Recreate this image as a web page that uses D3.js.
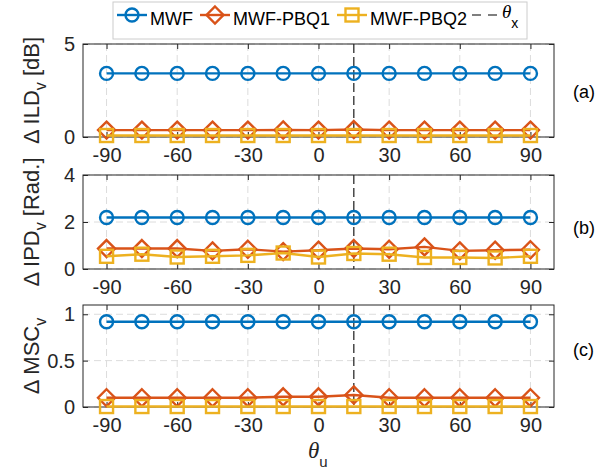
<!DOCTYPE html>
<html>
<head>
<meta charset="utf-8">
<script src="https://cdn.jsdelivr.net/npm/d3@7"></script>
<style>
  body { margin: 0; background: #fff; }
  text { font-family: "Liberation Sans", Arial, sans-serif; }
</style>
</head>
<body>
<div id="chart"></div>
<script>
// angles of the unwanted source (theta_u), and the target direction theta_x
const thetaU = [-90, -75, -60, -45, -30, -15, 0, 15, 30, 45, 60, 75, 90];
const xTicks = [-90, -60, -30, 0, 30, 60, 90];
const thetaX = 15;

const seriesNames = ['MWF', 'MWF-PBQ1', 'MWF-PBQ2'];

// (a) delta ILD [dB]
const ildMwf  = [3.42, 3.42, 3.42, 3.42, 3.42, 3.42, 3.42, 3.42, 3.42, 3.42, 3.42, 3.42, 3.42];
const ildPbq1 = [0.37, 0.37, 0.37, 0.37, 0.37, 0.38, 0.37, 0.40, 0.37, 0.37, 0.37, 0.37, 0.37];
const ildPbq2 = [0.08, 0.08, 0.08, 0.08, 0.08, 0.08, 0.08, 0.08, 0.08, 0.08, 0.08, 0.08, 0.08];

// (b) delta IPD [rad]
const ipdMwf  = [2.19, 2.19, 2.19, 2.19, 2.19, 2.19, 2.19, 2.19, 2.19, 2.19, 2.19, 2.19, 2.19];
const ipdPbq1 = [0.87, 0.87, 0.87, 0.77, 0.84, 0.74, 0.80, 0.87, 0.84, 0.94, 0.77, 0.80, 0.82];
const ipdPbq2 = [0.54, 0.63, 0.51, 0.54, 0.58, 0.68, 0.51, 0.66, 0.63, 0.49, 0.49, 0.47, 0.54];

// (c) delta MSC
const mscMwf  = [0.92, 0.92, 0.92, 0.92, 0.92, 0.92, 0.92, 0.92, 0.92, 0.92, 0.92, 0.92, 0.92];
const mscPbq1 = [0.10, 0.10, 0.10, 0.10, 0.10, 0.11, 0.11, 0.13, 0.10, 0.10, 0.10, 0.10, 0.10];
const mscPbq2 = [0.005, 0.005, 0.005, 0.005, 0.005, 0.005, 0.005, 0.005, 0.005, 0.005, 0.005, 0.005, 0.005];

const ildTicks = [0, 5];
const ipdTicks = [0, 2, 4];
const mscTicks = [0, 0.5, 1];

const colors = ['#0072BD', '#D95319', '#EDB120'];

const panels = [
  { tag: '(a)', label: ['\u0394 ILD', 'v', ' [dB]'], domain: [0, 5], ticks: ildTicks, series: [ildMwf, ildPbq1, ildPbq2] },
  { tag: '(b)', label: ['\u0394 IPD', 'v', ' [Rad.]'], domain: [0, 4], ticks: ipdTicks, series: [ipdMwf, ipdPbq1, ipdPbq2] },
  { tag: '(c)', label: ['\u0394 MSC', 'v', ''], domain: [0, 1.1], ticks: mscTicks, series: [mscMwf, mscPbq1, mscPbq2] }
];

// layout
const W = 608, H = 470;
const left = 83, right = 554;
const tops = [44, 175, 305], bottoms = [137, 269, 407];
const tagY = [98, 234, 356];

const svg = d3.select('#chart')
  .append('svg')
  .attr('width', W)
  .attr('height', H);

svg.append('rect').attr('width', W).attr('height', H).attr('fill', '#fff');

const x = d3.scaleLinear().domain([-100, 100]).range([left, right]);

// marker shapes
const drawMarker = (g, i, cx, cy) => {
  if (i === 0) {
    g.append('circle').attr('cx', cx).attr('cy', cy).attr('r', 6.5);
  } else if (i === 1) {
    const s = 8.5;
    g.append('path').attr('d', `M${cx},${cy - s}L${cx + s},${cy}L${cx},${cy + s}L${cx - s},${cy}Z`);
  } else {
    const s = 6.5;
    g.append('rect').attr('x', cx - s).attr('y', cy - s).attr('width', 2 * s).attr('height', 2 * s);
  }
};

panels.forEach((p, k) => {
  const y = d3.scaleLinear().domain(p.domain).range([bottoms[k], tops[k]]);
  const g = svg.append('g');

  // grid
  g.append('g').selectAll('line')
    .data(xTicks).enter().append('line')
    .attr('x1', d => x(d)).attr('x2', d => x(d))
    .attr('y1', tops[k]).attr('y2', bottoms[k])
    .attr('stroke', '#dcdcdc').attr('stroke-dasharray', '7,4');
  g.append('g').selectAll('line')
    .data(p.ticks).enter().append('line')
    .attr('x1', left).attr('x2', right)
    .attr('y1', d => y(d)).attr('y2', d => y(d))
    .attr('stroke', '#dcdcdc').attr('stroke-dasharray', '7,4');

  // theta_x marker line
  g.append('line')
    .attr('x1', x(thetaX)).attr('x2', x(thetaX))
    .attr('y1', tops[k]).attr('y2', bottoms[k])
    .attr('stroke', '#1a1a1a').attr('stroke-width', 1.2)
    .attr('stroke-dasharray', '9,4');

  // axes
  const fmt = d => String(d);
  g.append('g')
    .attr('transform', `translate(0,${bottoms[k]})`)
    .call(d3.axisBottom(x).tickValues(xTicks).tickFormat(fmt).tickSizeInner(-5).tickSizeOuter(0).tickPadding(10.5));
  g.append('g')
    .attr('transform', `translate(0,${tops[k]})`)
    .call(d3.axisTop(x).tickValues(xTicks).tickFormat('').tickSizeInner(-5).tickSizeOuter(0));
  g.append('g')
    .attr('transform', `translate(${left},0)`)
    .call(d3.axisLeft(y).tickValues(p.ticks).tickFormat(fmt).tickSizeInner(-5).tickSizeOuter(0).tickPadding(8));
  g.append('g')
    .attr('transform', `translate(${right},0)`)
    .call(d3.axisRight(y).tickValues(p.ticks).tickFormat('').tickSizeInner(-5).tickSizeOuter(0));

  g.selectAll('.domain').remove();
  g.selectAll('.tick line').attr('stroke', '#262626');
  g.selectAll('.tick text')
    .style('font-size', '20px')
    .style('font-family', '"Liberation Sans", Arial, sans-serif')
    .attr('fill', '#262626');

  // box
  g.append('rect')
    .attr('x', left).attr('y', tops[k])
    .attr('width', right - left).attr('height', bottoms[k] - tops[k])
    .attr('fill', 'none').attr('stroke', '#262626').attr('stroke-width', 1);

  // series lines + markers
  p.series.forEach((vals, i) => {
    const pts = thetaU.map((t, j) => [x(t), y(vals[j])]);
    const sg = g.append('g')
      .attr('fill', 'none')
      .attr('stroke', colors[i])
      .attr('stroke-width', 2.4);
    sg.append('path').attr('d', d3.line()(pts));
    pts.forEach(pt => drawMarker(sg, i, pt[0], pt[1]));
  });

  // y label
  const cy = (tops[k] + bottoms[k]) / 2;
  const lab = svg.append('text')
    .attr('transform', `translate(39,${cy}) rotate(-90)`)
    .attr('text-anchor', 'middle')
    .style('font-size', '22px')
    .attr('fill', '#262626');
  lab.append('tspan').text(p.label[0]);
  lab.append('tspan').attr('dy', 7).style('font-size', '16px').text(p.label[1]);
  if (p.label[2]) lab.append('tspan').attr('dy', -7).text(p.label[2]);

  // panel tag
  svg.append('text')
    .attr('x', 573).attr('y', tagY[k])
    .style('font-size', '18px')
    .attr('fill', '#000')
    .text(p.tag);
});

// x label theta_u
const xl = svg.append('text')
  .attr('x', 308).attr('y', 458)
  .attr('fill', '#262626');
xl.append('tspan')
  .style('font-family', '"Liberation Serif", serif')
  .style('font-style', 'italic')
  .style('font-size', '23px')
  .text('\u03B8');
xl.append('tspan').attr('dy', 9).style('font-size', '15px').text('u');

// legend
const lg = svg.append('g');
lg.append('rect')
  .attr('x', 113).attr('y', 2).attr('width', 414).attr('height', 37)
  .attr('fill', '#fff').attr('stroke', '#cccccc');

const legX = [117, 200, 337];
seriesNames.forEach((name, i) => {
  const sg = lg.append('g').attr('fill', 'none').attr('stroke', colors[i]).attr('stroke-width', 2.4);
  sg.append('line').attr('x1', legX[i]).attr('x2', legX[i] + 30).attr('y1', 15).attr('y2', 15);
  drawMarker(sg, i, legX[i] + 15, 15);
  lg.append('text')
    .attr('x', legX[i] + 33).attr('y', 25)
    .style('font-size', '18px')
    .attr('fill', '#000')
    .text(name);
});
lg.append('line')
  .attr('x1', 472).attr('x2', 497).attr('y1', 15).attr('y2', 15)
  .attr('stroke', '#000').attr('stroke-width', 1.2).attr('stroke-dasharray', '9,7');
const lt = lg.append('text').attr('x', 502).attr('y', 18).attr('fill', '#000');
lt.append('tspan')
  .style('font-family', '"Liberation Serif", serif')
  .style('font-style', 'italic')
  .style('font-size', '19px')
  .text('\u03B8');
lt.append('tspan').attr('dy', 10).style('font-size', '14px').text('x');
</script>
</body>
</html>
